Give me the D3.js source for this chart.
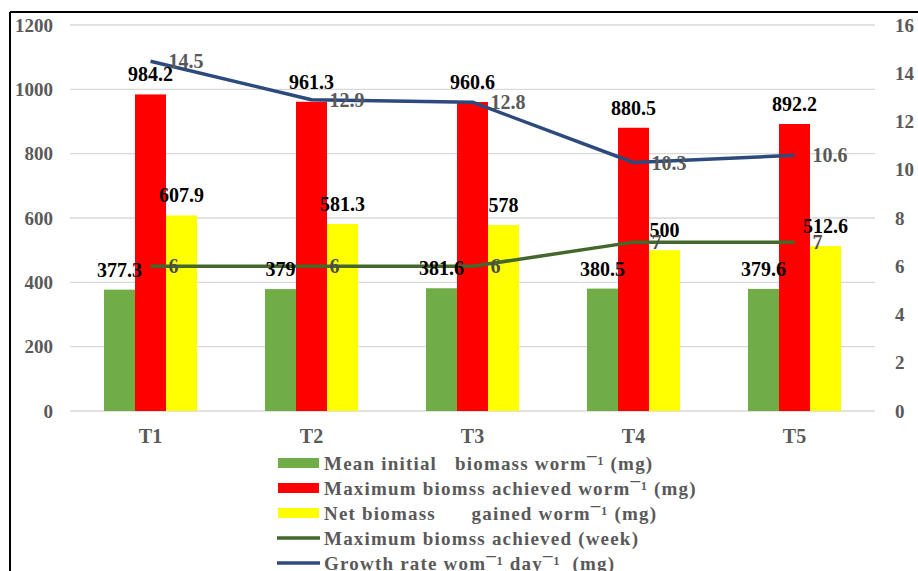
<!DOCTYPE html>
<html>
<head>
<meta charset="utf-8">
<script src="https://cdn.jsdelivr.net/npm/d3@7"></script>
<style>
    body { margin: 0; background: #fff; }
    svg { font-family: "Liberation Serif", "Times New Roman", serif; font-weight: bold; }
    .axis text { fill: #595959; font-size: 19px; font-family: "Liberation Serif", "Times New Roman", serif; }
    .legend text { fill: #595959; font-size: 19px; white-space: pre; }
</style>
</head>
<body>
<svg width="918" height="571"></svg>
<script>
var categories = ["T1", "T2", "T3", "T4", "T5"];
var meanInitial = [377.3, 379, 381.6, 380.5, 379.6];
var maxBiomass = [984.2, 961.3, 960.6, 880.5, 892.2];
var netBiomass = [607.9, 581.3, 578, 500, 512.6];
var maxWeek = [6, 6, 6, 7, 7];
var growthRate = [14.5, 12.9, 12.8, 10.3, 10.6];
var leftTicks = [0, 200, 400, 600, 800, 1000, 1200];
var rightTicks = [0, 2, 4, 6, 8, 10, 12, 14, 16];

var barSeries = [
    {name: "Mean initial   biomass worm\u00af\u00b9 (mg)", values: meanInitial, color: "#70ad47"},
    {name: "Maximum biomss achieved worm\u00af\u00b9 (mg)", values: maxBiomass, color: "#ff0000"},
    {name: "Net biomass      gained worm\u00af\u00b9 (mg)", values: netBiomass, color: "#ffff00"}
];
var lineSeries = [
    {name: "Maximum biomss achieved (week)", values: maxWeek, color: "#43682b", label: "#4d4d4d"},
    {name: "Growth rate wom\u00af\u00b9 day\u00af\u00b9  (mg)", values: growthRate, color: "#2c4a7c", label: "#595959"}
];

var svg = d3.select("svg"),
    plotLeft = 70, plotRight = 875, plotTop = 25, plotBottom = 411;

var x0 = d3.scaleBand().domain(categories).range([plotLeft, plotRight])
    .paddingInner(0.422).paddingOuter(0.211);
var x1 = d3.scaleBand().domain(d3.range(barSeries.length)).range([0, x0.bandwidth()]);
var y = d3.scaleLinear().domain([0, 1200]).range([plotBottom, plotTop]);
var y2 = d3.scaleLinear().domain([0, 16]).range([plotBottom, plotTop]);

// frame (cut off on the right/bottom in the original)
svg.append("line").attr("x1", 10).attr("x2", 918).attr("y1", 12).attr("y2", 12)
    .attr("stroke", "#000").attr("stroke-width", 2);
svg.append("line").attr("x1", 10).attr("x2", 10).attr("y1", 12).attr("y2", 571)
    .attr("stroke", "#000").attr("stroke-width", 2);

// gridlines
svg.append("g")
    .selectAll("line")
    .data(leftTicks)
    .enter().append("line")
    .attr("x1", plotLeft).attr("x2", plotRight)
    .attr("y1", function(d) { return y(d); })
    .attr("y2", function(d) { return y(d); })
    .attr("stroke", "#d9d9d9")
    .attr("stroke-width", 1.3);

var gl = svg.append("g")
    .attr("class", "axis")
    .attr("transform", "translate(" + plotLeft + ",0)")
    .call(d3.axisLeft(y).tickValues(leftTicks).tickFormat(d3.format("d")).tickSize(0).tickPadding(17));
gl.select(".domain").remove();

var gr = svg.append("g")
    .attr("class", "axis")
    .attr("transform", "translate(" + plotRight + ",0)")
    .call(d3.axisRight(y2).tickValues(rightTicks).tickSize(0).tickPadding(20));
gr.select(".domain").remove();

var gx = svg.append("g")
    .attr("class", "axis")
    .attr("transform", "translate(0," + plotBottom + ")")
    .call(d3.axisBottom(x0).tickSize(0).tickPadding(18));
gx.select(".domain").remove();
gx.selectAll("text").style("font-size", "20px");

// bars
function points(d, i) {
    return d.values.map(function(v, j) { return {s: i, v: v, c: categories[j]}; });
}

svg.append("g")
    .selectAll("g")
    .data(barSeries)
    .enter().append("g")
    .attr("fill", function(d) { return d.color; })
    .selectAll("rect")
    .data(points)
    .enter().append("rect")
    .attr("x", function(d) { return x0(d.c) + x1(d.s); })
    .attr("width", x1.bandwidth())
    .attr("y", function(d) { return y(d.v); })
    .attr("height", function(d) { return plotBottom - y(d.v); });

// lines
var line = d3.line()
    .x(function(d, i) { return x0(categories[i]) + x0.bandwidth() / 2; })
    .y(function(d) { return y2(d); });

svg.append("g")
    .selectAll("path")
    .data(lineSeries)
    .enter().append("path")
    .attr("d", function(d) { return line(d.values); })
    .attr("fill", "none")
    .attr("stroke", function(d) { return d.color; })
    .attr("stroke-width", 3.5)
    .attr("stroke-linejoin", "round");

// bar labels, drawn over all bars
svg.append("g")
    .selectAll("g")
    .data(barSeries)
    .enter().append("g")
    .selectAll("text")
    .data(points)
    .enter().append("text")
    .attr("x", function(d) { return x0(d.c) + x1(d.s) + x1.bandwidth() / 2; })
    .attr("y", function(d) { return y(d.v) - 13; })
    .attr("text-anchor", "middle")
    .attr("fill", "#000")
    .style("font-size", "20px")
    .text(function(d) { return d.v; });

// line labels
lineSeries.forEach(function(s) {
    svg.append("g")
        .selectAll("text")
        .data(s.values)
        .enter().append("text")
        .attr("x", function(d, i) { return x0(categories[i]) + x0.bandwidth() / 2 + 18; })
        .attr("y", function(d) { return y2(d); })
        .attr("dy", "0.35em")
        .attr("fill", s.label)
        .style("font-size", "20px")
        .text(function(d) { return d; });
});

// legend
var legendItems = barSeries.map(function(d) { return {name: d.name, color: d.color, type: "bar"}; })
    .concat(lineSeries.map(function(d) { return {name: d.name, color: d.color, type: "line"}; }));

var legend = svg.append("g")
    .attr("class", "legend")
    .attr("transform", "translate(278,463)");

var item = legend.selectAll("g")
    .data(legendItems)
    .enter().append("g")
    .attr("transform", function(d, i) { return "translate(0," + (i * 25) + ")"; });

item.filter(function(d) { return d.type === "bar"; })
    .append("rect")
    .attr("x", 0).attr("y", -5)
    .attr("width", 41).attr("height", 10)
    .attr("fill", function(d) { return d.color; });

item.filter(function(d) { return d.type === "line"; })
    .append("line")
    .attr("x1", -1).attr("x2", 42)
    .attr("stroke", function(d) { return d.color; })
    .attr("stroke-width", 3.5);

item.append("text")
    .attr("x", 46)
    .attr("dy", "0.35em")
    .style("letter-spacing", "1.2px")
    .text(function(d) { return d.name; });
</script>
</body>
</html>
